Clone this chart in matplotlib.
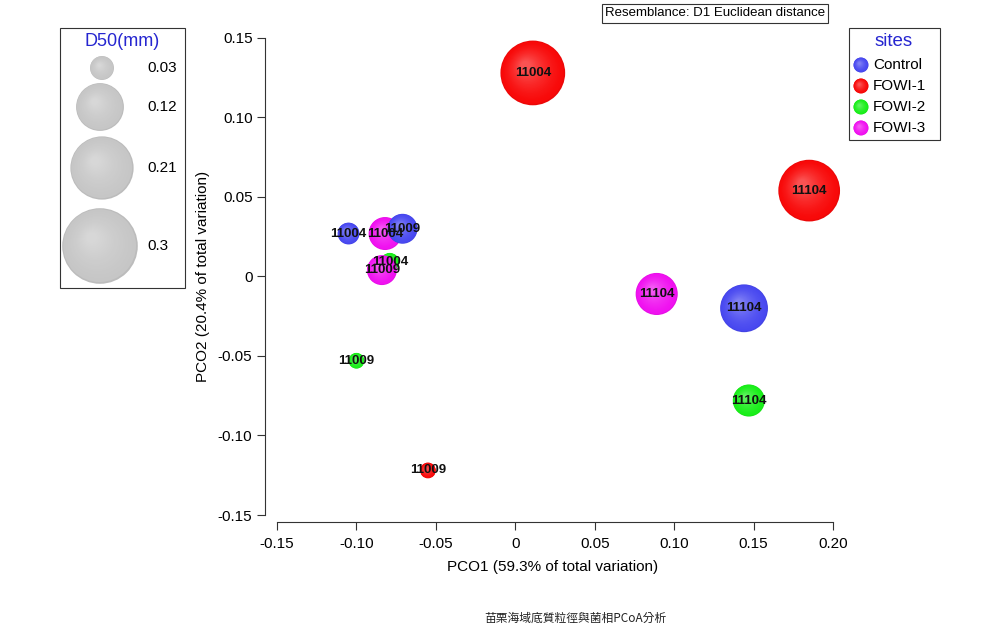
import numpy as np
import matplotlib
matplotlib.use('Agg')
import matplotlib.pyplot as plt
from matplotlib import transforms
from matplotlib.colors import to_rgb
from matplotlib.patches import Rectangle, Circle

plt.rcParams['font.family'] = ['Liberation Sans', 'Noto Sans CJK TC', 'DejaVu Sans']

# ── Data ───────────────────────────────────────────────────────────────────────
sites = ["Control", "FOWI-1", "FOWI-2", "FOWI-3"]
site_colors = {"Control": "#4848f0", "FOWI-1": "#f80808", "FOWI-2": "#18ee18", "FOWI-3": "#f010f0"}
sample_ids = ["11004", "11009", "11104"]

pco1 = {
    "FOWI-1":  [0.011, -0.055, 0.185],
    "FOWI-2":  [-0.079, -0.100, 0.147],
    "FOWI-3":  [-0.082, -0.084, 0.089],
    "Control": [-0.105, -0.071, 0.144],
}
pco2 = {
    "FOWI-1":  [0.128, -0.122, 0.054],
    "FOWI-2":  [0.009, -0.053, -0.078],
    "FOWI-3":  [0.027, 0.004, -0.011],
    "Control": [0.027, 0.030, -0.020],
}
d50 = {
    "FOWI-1":  [0.22, 0.013, 0.20],
    "FOWI-2":  [0.018, 0.013, 0.054],
    "FOWI-3":  [0.057, 0.047, 0.093],
    "Control": [0.025, 0.047, 0.12],
}
draw_order = ["FOWI-1", "FOWI-2", "FOWI-3", "Control"]

d50_legend = [0.03, 0.12, 0.21, 0.3]
d50_legend_labels = ["0.03", "0.12", "0.21", "0.3"]

xticks = [-0.15, -0.10, -0.05, 0, 0.05, 0.10, 0.15, 0.20]
yticks = [-0.15, -0.10, -0.05, 0, 0.05, 0.10, 0.15]

# area proportional to D50: radius(px) = 69*sqrt(D50)
PX_PER_SQRT = 69.0
DPI = 100
N_LAYERS = 24


def mix(c, w, t):
    c = np.array(to_rgb(c))
    return tuple(c * (1 - t) + np.array(to_rgb(w)) * t)


def layer_style(k):
    t = k / (N_LAYERS - 1)
    scale = 1 - 0.85 * t
    shift = 0.22 * t
    col_t = 0.30 * t ** 1.5
    return scale, shift, col_t


def sphere_scatter(ax, fig, x, y, d, color, z):
    """Shaded ball drawn as stacked scatter layers (soft highlight upper-left)."""
    r_pt = PX_PER_SQRT * np.sqrt(d) * 72.0 / DPI
    for k in range(N_LAYERS):
        scale, shift, col_t = layer_style(k)
        off = shift * r_pt
        tr = transforms.offset_copy(ax.transData, fig=fig, x=-off, y=off, units='points')
        col = mix(color, 'white', col_t) if k > 0 else mix(color, 'black', 0.05)
        ax.scatter([x], [y], s=(2 * r_pt * scale) ** 2, color=col, edgecolors='none',
                   transform=tr, zorder=z + k * 0.001, clip_on=False)


def sphere_patch(ax, cx, cy, r, color, z=3):
    """Same idea, with patches in pixel coordinates (y grows downward)."""
    for k in range(N_LAYERS):
        scale, shift, col_t = layer_style(k)
        off = shift * r
        col = mix(color, 'white', col_t) if k > 0 else mix(color, 'black', 0.05)
        ax.add_patch(Circle((cx - off, cy - off), r * scale, facecolor=col, edgecolor='none',
                            zorder=z + k * 0.001))


fig = plt.figure(figsize=(10, 6.33), dpi=DPI)

# main axes, placed in pixels
L, R, T, B = 265, 840, 30, 522
W, H = 1000, 633
ax = fig.add_axes([L / W, 1 - B / H, (R - L) / W, (B - T) / H])
ax.set_xlim(-0.1576, 0.2044)
ax.set_ylim(-0.1544, 0.1550)

for sp in ['top', 'right']:
    ax.spines[sp].set_visible(False)
ax.spines['left'].set_bounds(-0.15, 0.15)
ax.spines['bottom'].set_bounds(-0.15, 0.20)
for sp in ['left', 'bottom']:
    ax.spines[sp].set_linewidth(0.8)
    ax.spines[sp].set_color('#333333')

fmt = lambda v: "0" if abs(v) < 1e-9 else f"{v:.2f}"
ax.set_xticks(xticks)
ax.set_xticklabels([fmt(v) for v in xticks])
ax.set_yticks(yticks)
ax.set_yticklabels([fmt(v) for v in yticks])
ax.tick_params(axis='x', direction='out', length=6, width=0.8, color='#333333', labelsize=11, pad=5)
ax.tick_params(axis='y', direction='out', length=6, width=0.8, color='#333333', labelsize=11, pad=3)
ax.set_xlabel("PCO1 (59.3% of total variation)", fontsize=11, labelpad=6)
ax.set_ylabel("PCO2 (20.4% of total variation)", fontsize=11, labelpad=6)
ax.patch.set_visible(False)

for i, s in enumerate(draw_order):
    for j in range(len(sample_ids)):
        sphere_scatter(ax, fig, pco1[s][j], pco2[s][j], d50[s][j], site_colors[s], 3 + i)

for s in draw_order:
    for j, lab in enumerate(sample_ids):
        ax.text(pco1[s][j], pco2[s][j], lab, ha='center', va='center', fontsize=9.5,
                fontweight='bold', color='#111111', zorder=20, clip_on=False)

# overlay in pixel coordinates for legends / captions
ov = fig.add_axes([0, 0, 1, 1])
ov.set_xlim(0, W)
ov.set_ylim(H, 0)
ov.axis('off')
ov.patch.set_visible(False)

# D50 legend
ov.add_patch(Rectangle((60, 28), 125, 260, facecolor='white', edgecolor='#333333', lw=0.8, zorder=2))
ov.text(122, 42, "D50(mm)", color='#2626d0', fontsize=13, ha='center', va='center', zorder=5)
leg_y = [68, 107, 168, 246]
leg_x = [102, 100, 102, 100]
for v, lab, yy, xx in zip(d50_legend, d50_legend_labels, leg_y, leg_x):
    sphere_patch(ov, xx, yy, PX_PER_SQRT * np.sqrt(v), '#c6c6c6')
    ov.text(147, yy, lab, fontsize=11, va='center', ha='left', zorder=5)

# sites legend
ov.add_patch(Rectangle((849, 28), 91, 112, facecolor='white', edgecolor='#333333', lw=0.8, zorder=2))
ov.text(894, 42, "sites", color='#2626d0', fontsize=13.5, ha='center', va='center', zorder=5)
for k, s in enumerate(sites):
    yy = 65 + 21 * k
    sphere_patch(ov, 861, yy, 7.5, site_colors[s])
    ov.text(873, yy, s, fontsize=11, va='center', ha='left', zorder=5)

# resemblance box
ov.text(605, 13.5, "Resemblance: D1 Euclidean distance", fontsize=9.5, va='center', ha='left',
        bbox=dict(boxstyle='square,pad=0.25', facecolor='white', edgecolor='#333333', lw=0.8),
        zorder=5)

# caption
ov.text(575, 618, "苗栗海域底質粒徑與菌相PCoA分析", fontsize=8.5, ha='center', va='center',
        family=['Noto Sans CJK TC', 'DejaVu Sans'], color='#222222')

fig.savefig("out.png", dpi=DPI)
